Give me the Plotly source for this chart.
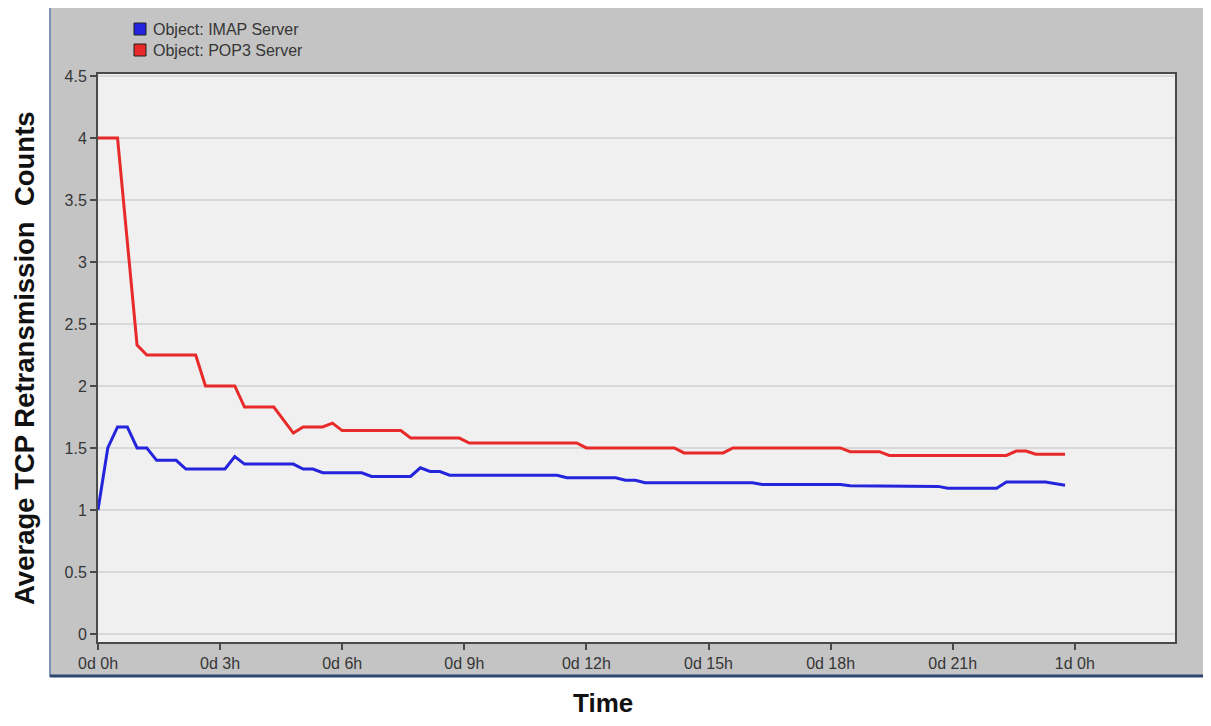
import plotly.graph_objects as go

# vertices of the two OPNET curves, time in hours
IMAP_HOURS = [0, 0.24, 0.48, 0.72, 0.96, 1.20, 1.44, 1.92, 2.16, 3.12, 3.36, 3.60, 4.80, 5.04, 5.28, 5.52,
              6.48, 6.72, 7.68, 7.92, 8.16, 8.40, 8.64, 11.28, 11.52, 12.72, 12.96, 13.20, 13.44, 16.08,
              16.32, 18.24, 18.48, 19.92, 20.16, 20.64, 20.88, 22.08, 22.32, 23.28, 23.76]
IMAP_COUNTS = [1.0, 1.50, 1.67, 1.67, 1.50, 1.50, 1.40, 1.40, 1.33, 1.33, 1.43, 1.37, 1.37, 1.33, 1.33, 1.30,
               1.30, 1.27, 1.27, 1.34, 1.31, 1.31, 1.28, 1.28, 1.26, 1.26, 1.24, 1.24, 1.22, 1.22,
               1.205, 1.205, 1.195, 1.195, 1.19, 1.19, 1.175, 1.175, 1.225, 1.225, 1.20]

POP3_HOURS = [0, 0.48, 0.96, 1.20, 2.40, 2.64, 3.36, 3.60, 4.32, 4.80, 5.04, 5.52, 5.76, 6.00, 7.44, 7.68,
              8.88, 9.12, 11.76, 12.00, 14.16, 14.40, 15.36, 15.60, 18.24, 18.48, 19.20, 19.44, 22.32,
              22.56, 22.80, 23.04, 23.76]
POP3_COUNTS = [4.0, 4.0, 2.33, 2.25, 2.25, 2.0, 2.0, 1.83, 1.83, 1.62, 1.67, 1.67, 1.70, 1.64, 1.64, 1.58,
               1.58, 1.54, 1.54, 1.50, 1.50, 1.46, 1.46, 1.50, 1.50, 1.47, 1.47, 1.44, 1.44,
               1.475, 1.475, 1.45, 1.45]

X_TICKS = [0, 3, 6, 9, 12, 15, 18, 21, 24]
X_TICK_TEXT = ["0d 0h", "0d 3h", "0d 6h", "0d 9h", "0d 12h", "0d 15h", "0d 18h", "0d 21h", "1d 0h"]
Y_TICKS = [0, 0.5, 1, 1.5, 2, 2.5, 3, 3.5, 4, 4.5]

BLUE = "#2424dc"
RED = "#e82a2a"
PANEL = "#c4c4c4"
PLOT_BG = "#f0f0f0"
GRID = "#d9d9d9"
AXIS = "#4a4a4a"
TEXT = "#363636"
FONT = "Liberation Sans, Arial"

# the page body has an 8px margin, so the figure is drawn 8px in from the window corner
OFF = 8
W, H = 1211 - OFF, 726 - 2 * OFF
L, R, T, B = 98, 1175, 74, 642  # plot area in window pixels


def px(x):
    return (x - L) / (R - L)


def py(y):
    return (B - y) / (B - T)


fig = go.Figure()
fig.add_trace(go.Scatter(x=IMAP_HOURS, y=IMAP_COUNTS, mode="lines", line={"color": BLUE, "width": 3},
                         name="Object: IMAP Server", showlegend=False))
fig.add_trace(go.Scatter(x=POP3_HOURS, y=POP3_COUNTS, mode="lines", line={"color": RED, "width": 3},
                         name="Object: POP3 Server", showlegend=False))

shapes = [
    # grey window panel, then the light plot area on top of it
    dict(type="rect", xref="paper", yref="paper", x0=px(50), x1=px(1208), y0=py(676), y1=py(6),
         fillcolor=PANEL, line={"color": "#7d93b5", "width": 2}, layer="below"),
    dict(type="line", xref="paper", yref="paper", x0=px(50), x1=px(1208), y0=py(676), y1=py(676),
         line={"color": "#2e4670", "width": 3}, layer="below"),
    dict(type="line", xref="paper", yref="paper", x0=px(1208), x1=px(1208), y0=py(676), y1=py(6),
         line={"color": "#2e4670", "width": 2}, layer="below"),
    dict(type="rect", xref="paper", yref="paper", x0=0, x1=1, y0=0, y1=1,
         fillcolor=PLOT_BG, line={"width": 0}, layer="below"),
]
annotations = []
for i, (name, color) in enumerate([("Object: IMAP Server", BLUE), ("Object: POP3 Server", RED)]):
    yc = 29 + i * 21
    shapes.append(dict(type="rect", xref="paper", yref="paper", x0=px(134), x1=px(146),
                       y0=py(yc + 6), y1=py(yc - 6), fillcolor=color,
                       line={"color": "#202020", "width": 1}))
    annotations.append(dict(text=name, xref="paper", yref="paper", x=px(151), y=py(yc),
                            xanchor="left", yanchor="middle", showarrow=False,
                            font={"size": 16, "color": TEXT, "family": FONT}))

annotations.append(dict(text="<b>Average TCP Retransmission  Counts</b>", textangle=-90,
                        xref="paper", yref="paper", x=px(24), y=py(358), showarrow=False,
                        xanchor="center", yanchor="middle",
                        font={"size": 27.5, "color": "#111111", "family": FONT}))
annotations.append(dict(text="<b>Time</b>", xref="paper", yref="paper", x=px(603), y=py(703),
                        showarrow=False, xanchor="center", yanchor="middle",
                        font={"size": 26, "color": "#111111", "family": FONT}))

fig.update_layout(
    width=W, height=H,
    margin={"l": L - OFF, "r": W - (R - OFF), "t": T - OFF, "b": H - (B - OFF), "pad": 0},
    paper_bgcolor="white",
    plot_bgcolor=PLOT_BG,
    shapes=shapes,
    annotations=annotations,
    font={"family": FONT, "size": 16, "color": TEXT},
)
fig.update_xaxes(
    range=[0, (R - L) / 40.7], tickvals=X_TICKS, ticktext=X_TICK_TEXT,
    ticks="outside", ticklen=6, tickcolor=AXIS, tickwidth=2,
    showgrid=False, zeroline=False, showline=True, mirror=True, linecolor=AXIS, linewidth=2,
    tickfont={"size": 16, "color": TEXT},
)
fig.update_yaxes(
    range=[-0.065, 4.516], tickvals=Y_TICKS,
    ticks="outside", ticklen=6, tickcolor=AXIS, tickwidth=2,
    showgrid=True, gridcolor=GRID, gridwidth=2, zeroline=False,
    showline=True, mirror=True, linecolor=AXIS, linewidth=2,
    tickfont={"size": 16, "color": TEXT},
)

fig.write_html("out.html")
